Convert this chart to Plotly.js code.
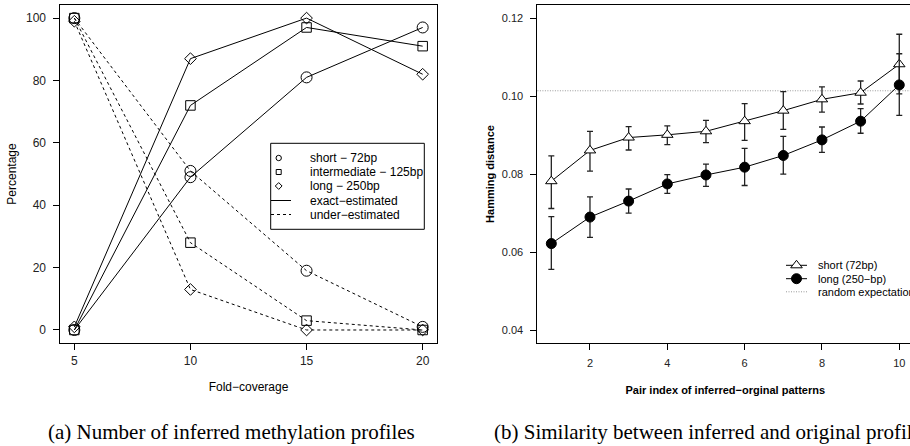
<!DOCTYPE html>
<html>
<head>
<meta charset="utf-8">
<script src="https://cdn.plot.ly/plotly-3.0.1.min.js"></script>
<style>
html,body{margin:0;padding:0;overflow:hidden;background:#fff;width:910px;height:446px;}
#chart{width:924px;height:446px;}
</style>
</head>
<body>
<div id="chart"></div>
<script>
// ---- Panel (a): number of inferred methylation profiles ----
const coverage = [5, 10, 15, 20];
const shortExact = [0, 49, 81, 97];
const shortUnder = [100, 51, 19, 1];
const intermExact = [0, 72, 97, 91];
const intermUnder = [100, 28, 3, 0];
const longExact = [1, 87, 100, 82];
const longUnder = [99, 13, 0, 0];
const legendA = ['short \u2212 72bp', 'intermediate \u2212 125bp', 'long \u2212 250bp', 'exact\u2212estimated', 'under\u2212estimated'];

// ---- Panel (b): similarity between inferred and original profiles ----
const pairIndex = [1, 2, 3, 4, 5, 6, 7, 8, 9, 10];
const shortMean  = [0.0782, 0.0861, 0.0894, 0.0901, 0.0910, 0.0936, 0.0963, 0.0992, 0.1009, 0.1082];
const shortUpper = [0.0847, 0.0910, 0.0922, 0.0924, 0.0938, 0.0981, 0.1012, 0.1024, 0.1039, 0.1159];
const shortLower = [0.0712, 0.0808, 0.0862, 0.0876, 0.0881, 0.0887, 0.0915, 0.0959, 0.0980, 0.1006];
const longMean   = [0.0622, 0.0690, 0.0731, 0.0775, 0.0798, 0.0818, 0.0848, 0.0888, 0.0936, 0.1029];
const longUpper  = [0.0691, 0.0742, 0.0762, 0.0799, 0.0826, 0.0866, 0.0897, 0.0921, 0.0968, 0.1109];
const longLower  = [0.0556, 0.0638, 0.0700, 0.0751, 0.0769, 0.0771, 0.0800, 0.0856, 0.0905, 0.0951];
const randomExpectation = 0.1014;
const legendB = ['short (72bp)', 'long (250\u2212bp)', 'random expectation'];

const captionA = '(a) Number of inferred methylation profiles';
const captionB = '(b) Similarity between inferred and original profiles';

// ---- layout helpers (figure pixel -> paper fraction) ----
const W = 924, H = 446;
const fx = p => p / W;
const fy = p => 1 - p / H;
const SANS = 'Liberation Sans, Arial, sans-serif';
const SERIF = 'Liberation Serif, Times New Roman, serif';

const solid = {color: '#000', width: 1};
const dashed = {color: '#000', width: 1, dash: '3px,3px'};
const dotted = {color: '#999', width: 1, dash: '1px,1.5px'};
function mk(sym, size) { return {symbol: sym, size: size, color: '#000', line: {color: '#000', width: 1}}; }

const traces = [
  {x: coverage, y: shortExact, name: 'short exact', mode: 'lines+markers', line: solid, marker: mk('circle-open', 11), xaxis: 'x', yaxis: 'y'},
  {x: coverage, y: intermExact, name: 'intermediate exact', mode: 'lines+markers', line: solid, marker: mk('square-open', 9.5), xaxis: 'x', yaxis: 'y'},
  {x: coverage, y: longExact, name: 'long exact', mode: 'lines+markers', line: solid, marker: mk('diamond-open', 9), xaxis: 'x', yaxis: 'y'},
  {x: coverage, y: shortUnder, name: 'short under', mode: 'lines+markers', line: dashed, marker: mk('circle-open', 11), xaxis: 'x', yaxis: 'y'},
  {x: coverage, y: intermUnder, name: 'intermediate under', mode: 'lines+markers', line: dashed, marker: mk('square-open', 9.5), xaxis: 'x', yaxis: 'y'},
  {x: coverage, y: longUnder, name: 'long under', mode: 'lines+markers', line: dashed, marker: mk('diamond-open', 9), xaxis: 'x', yaxis: 'y'},
  {x: pairIndex, y: shortMean, name: legendB[0], mode: 'lines+markers', line: solid,
   marker: {symbol: 'triangle-up', size: 10, color: '#fff', line: {color: '#000', width: 1}},
   error_y: {type: 'data', symmetric: false,
             array: shortUpper.map((u, i) => u - shortMean[i]),
             arrayminus: shortLower.map((l, i) => shortMean[i] - l),
             color: '#222', thickness: 1.3, width: 3},
   xaxis: 'x2', yaxis: 'y2'},
  {x: pairIndex, y: longMean, name: legendB[1], mode: 'lines+markers', line: solid,
   marker: {symbol: 'circle', size: 10, color: '#000', line: {color: '#000', width: 1}},
   error_y: {type: 'data', symmetric: false,
             array: longUpper.map((u, i) => u - longMean[i]),
             arrayminus: longLower.map((l, i) => longMean[i] - l),
             color: '#222', thickness: 1.3, width: 3},
   xaxis: 'x2', yaxis: 'y2'}
];

const axisBase = {
  showline: true, mirror: true, linecolor: '#000', linewidth: 1,
  ticks: 'outside', ticklen: 6, tickwidth: 1, tickcolor: '#000',
  showgrid: false, zeroline: false, automargin: false
};
const ydom = [fy(343), fy(5)];

const shapes = [];
const annotations = [];
// random expectation line
shapes.push({type: 'line', xref: 'x2 domain', yref: 'y2', x0: 0, x1: 1, y0: randomExpectation, y1: randomExpectation,
             line: dotted, layer: 'below'});

// legend (a)
shapes.push({type: 'rect', xref: 'paper', yref: 'paper', x0: fx(270.7), x1: fx(424.3), y0: fy(229.3), y1: fy(143.3),
             line: {color: '#000', width: 1}, fillcolor: '#fff'});
const rowsA = [158, 172, 186, 200.5, 214.5];
const sxA = 278.7;
shapes.push({type: 'circle', xref: 'paper', yref: 'paper', x0: fx(sxA - 2.7), x1: fx(sxA + 2.7), y0: fy(rowsA[0] + 2.7), y1: fy(rowsA[0] - 2.7), line: {color: '#000', width: 1}});
shapes.push({type: 'rect', xref: 'paper', yref: 'paper', x0: fx(sxA - 2.5), x1: fx(sxA + 2.5), y0: fy(rowsA[1] + 2.5), y1: fy(rowsA[1] - 2.5), line: {color: '#000', width: 1}});
shapes.push({type: 'path', xref: 'paper', yref: 'paper',
             path: `M ${fx(sxA)},${fy(rowsA[2] - 3.4)} L ${fx(sxA + 3.4)},${fy(rowsA[2])} L ${fx(sxA)},${fy(rowsA[2] + 3.4)} L ${fx(sxA - 3.4)},${fy(rowsA[2])} Z`,
             line: {color: '#000', width: 1}});
shapes.push({type: 'line', xref: 'paper', yref: 'paper', x0: fx(271), x1: fx(291), y0: fy(rowsA[3]), y1: fy(rowsA[3]), line: {color: '#000', width: 1}});
shapes.push({type: 'line', xref: 'paper', yref: 'paper', x0: fx(271), x1: fx(291), y0: fy(rowsA[4]), y1: fy(rowsA[4]), line: {color: '#000', width: 1, dash: '3px,3px'}});
legendA.forEach((t, i) => annotations.push({text: t, xref: 'paper', yref: 'paper', x: fx(307.7), y: fy(rowsA[i]),
  xanchor: 'left', yanchor: 'middle', showarrow: false, font: {family: SANS, size: 12, color: '#000'}}));

// legend (b)
const rowsB = [265.3, 278.7, 291.8];
const sxB = 796.5;
[0, 1].forEach(i => shapes.push({type: 'line', xref: 'paper', yref: 'paper', x0: fx(786), x1: fx(807), y0: fy(rowsB[i]), y1: fy(rowsB[i]), line: {color: '#000', width: 1}}));
shapes.push({type: 'path', xref: 'paper', yref: 'paper',
             path: `M ${fx(sxB - 5.8)},${fy(rowsB[0] + 2.5)} L ${fx(sxB + 5.8)},${fy(rowsB[0] + 2.5)} L ${fx(sxB)},${fy(rowsB[0] - 5)} Z`,
             line: {color: '#000', width: 1}, fillcolor: '#fff'});
shapes.push({type: 'circle', xref: 'paper', yref: 'paper', x0: fx(sxB - 5), x1: fx(sxB + 5), y0: fy(rowsB[1] + 5), y1: fy(rowsB[1] - 5), line: {color: '#000', width: 1}, fillcolor: '#000'});
shapes.push({type: 'line', xref: 'paper', yref: 'paper', x0: fx(786), x1: fx(807), y0: fy(rowsB[2]), y1: fy(rowsB[2]), line: dotted});
legendB.forEach((t, i) => annotations.push({text: t, xref: 'paper', yref: 'paper', x: fx(816), y: fy(rowsB[i]),
  xanchor: 'left', yanchor: 'middle', showarrow: false, font: {family: SANS, size: 11, color: '#000'}}));

// captions
annotations.push({text: captionA, xref: 'paper', yref: 'paper', x: fx(47), y: fy(445), xanchor: 'left', yanchor: 'bottom',
  showarrow: false, borderpad: 0, font: {family: SERIF, size: 21, color: '#000'}});
annotations.push({text: captionB, xref: 'paper', yref: 'paper', x: fx(493), y: fy(445), xanchor: 'left', yanchor: 'bottom',
  showarrow: false, borderpad: 0, font: {family: SERIF, size: 21, color: '#000'}});

const layout = {
  width: W, height: H,
  margin: {l: 0, r: 0, t: 0, b: 0, pad: 0},
  paper_bgcolor: '#fff', plot_bgcolor: '#fff',
  showlegend: false,
  font: {family: SANS, color: '#000'},
  xaxis: Object.assign({}, axisBase, {domain: [fx(60.4), fx(436.6)], range: [4.4, 20.6], anchor: 'y',
    tickvals: coverage, ticklabelstandoff: 1, tickfont: {family: SANS, size: 12, color: '#222'},
    title: {text: 'Fold\u2212coverage', font: {family: SANS, size: 12, color: '#000'}, standoff: 15}}),
  yaxis: Object.assign({}, axisBase, {domain: ydom, range: [-4.17, 104.2], anchor: 'x',
    tickvals: [0, 20, 40, 60, 80, 100], ticklabelstandoff: 5, tickfont: {family: SANS, size: 12, color: '#222'},
    title: {text: 'Percentage', font: {family: SANS, size: 12, color: '#000'}, standoff: 6}}),
  xaxis2: Object.assign({}, axisBase, {domain: [fx(537.4), fx(913.2)], range: [0.64, 10.36], anchor: 'y2',
    tickvals: [2, 4, 6, 8, 10], ticklabelstandoff: 4, tickfont: {family: SANS, size: 11, color: '#222'},
    title: {text: 'Pair index of inferred\u2212orginal patterns', font: {family: SANS, size: 11, color: '#000', weight: 'bold'}, standoff: 18}}),
  yaxis2: Object.assign({}, axisBase, {domain: ydom, range: [0.0367, 0.1234], anchor: 'x2',
    tickvals: [0.04, 0.06, 0.08, 0.10, 0.12], tickformat: '.2f', ticklabelstandoff: 5, tickfont: {family: SANS, size: 11, color: '#222'},
    title: {text: 'Hamming distance', font: {family: SANS, size: 11, color: '#000', weight: 'bold'}, standoff: 4}}),
  shapes: shapes,
  annotations: annotations
};

Plotly.newPlot('chart', traces, layout, {displayModeBar: false, staticPlot: true});
</script>
</body>
</html>
